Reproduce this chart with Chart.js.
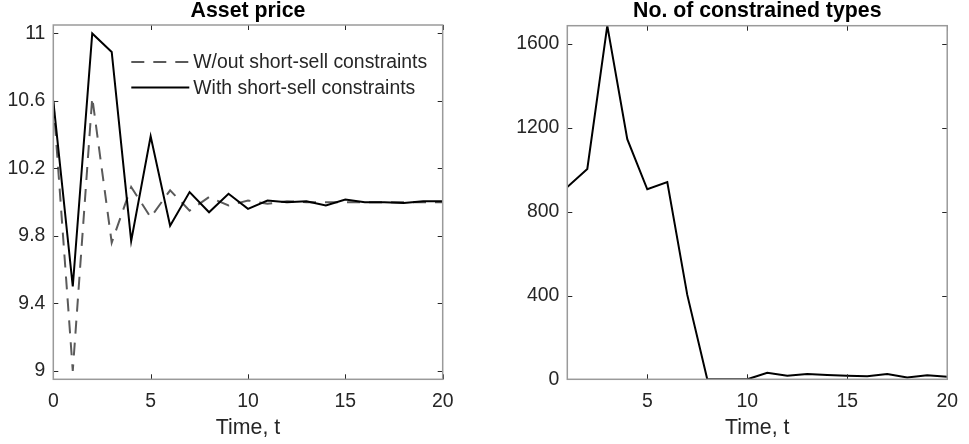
<!DOCTYPE html>
<html>
<head>
<meta charset="utf-8">
<script src="https://cdn.jsdelivr.net/npm/chart.js@4.4.1/dist/chart.umd.min.js"></script>
<style>
  html, body { margin: 0; padding: 0; background: #ffffff; }
  body { width: 969px; height: 444px; position: relative; overflow: hidden; }
  canvas { position: absolute; top: 0; }
  #priceChart { left: 0; }
  #typesChart { left: 500px; }
</style>
</head>
<body>
<canvas id="priceChart" width="500" height="444"></canvas>
<canvas id="typesChart" width="469" height="444"></canvas>
<script>
// Asset price path, t = 0..20
const timePrice = [0, 1, 2, 3, 4, 5, 6, 7, 8, 9, 10, 11, 12, 13, 14, 15, 16, 17, 18, 19, 20];
const priceWithout = [10.6, 9.0, 10.62, 9.76, 10.09, 9.91, 10.07, 9.95, 10.03, 9.98, 10.01, 9.99, 10.005, 10.0, 10.0, 10.0, 10.0, 10.0, 10.0, 10.0, 10.0];
const priceWith = [10.6, 9.5, 11.0, 10.89, 9.77, 10.39, 9.86, 10.06, 9.94, 10.05, 9.96, 10.01, 10.0, 10.005, 9.98, 10.015, 10.0, 10.0, 9.995, 10.005, 10.005];

// Number of constrained types, t = 1..20
const timeTypes = [1, 2, 3, 4, 5, 6, 7, 8, 9, 10, 11, 12, 13, 14, 15, 16, 17, 18, 19, 20];
const constrainedTypes = [918, 1004, 1688, 1146, 907, 941, 403, 0, 0, 0, 31, 17, 25, 20, 17, 14, 25, 9, 19, 12];

// Axis ticks and labels
const priceTicks = [9, 9.4, 9.8, 10.2, 10.6, 11];
const priceTickLabels = ['9', '9.4', '9.8', '10.2', '10.6', '11'];
const timeTicksPrice = [0, 5, 10, 15, 20];
const typesTicks = [0, 400, 800, 1200, 1600];
const timeTicksTypes = [5, 10, 15, 20];

const titlePrice = 'Asset price';
const titleTypes = 'No. of constrained types';
const xTitle = 'Time, t';
const labelWithout = 'W/out short-sell constraints';
const labelWith = 'With short-sell constraints';

const FONT = '"Liberation Sans", Arial, Helvetica, sans-serif';
const TEXT = '#262626';

function pts(xs, ys) { return xs.map((x, i) => ({ x: x, y: ys[i] })); }

// Box around the plot area, inward tick marks on all four sides, and the title
const boxPlugin = {
  id: 'boxTicks',
  afterDatasetsDraw(chart, args, opts) {
    const { ctx, chartArea: a, scales } = chart;
    ctx.save();
    ctx.strokeStyle = '#262626';
    ctx.lineWidth = 1;
    const len = 5;
    scales.x.ticks.forEach(t => {
      const px = Math.round(scales.x.getPixelForValue(t.value)) + 0.5;
      ctx.beginPath();
      ctx.moveTo(px, a.bottom); ctx.lineTo(px, a.bottom - len);
      ctx.moveTo(px, a.top); ctx.lineTo(px, a.top + len);
      ctx.stroke();
    });
    scales.y.ticks.forEach(t => {
      const py = Math.round(scales.y.getPixelForValue(t.value)) + 0.5;
      ctx.beginPath();
      ctx.moveTo(a.left, py); ctx.lineTo(a.left + len, py);
      ctx.moveTo(a.right, py); ctx.lineTo(a.right - len, py);
      ctx.stroke();
    });
    ctx.strokeStyle = '#9a9a9a';
    ctx.lineWidth = 1.5;
    ctx.strokeRect(a.left, a.top, a.right - a.left, a.bottom - a.top);

    ctx.fillStyle = '#000';
    ctx.font = 'bold 21.3px ' + FONT;
    ctx.textAlign = 'center';
    ctx.textBaseline = 'middle';
    ctx.fillText(opts.text, (a.left + a.right) / 2, 11);
    ctx.restore();
  }
};

// Legend without frame, placed in the upper right of the price panel
const legendPlugin = {
  id: 'innerLegend',
  afterDatasetsDraw(chart, args, opts) {
    if (!opts.items) return;
    const { ctx, chartArea: a } = chart;
    ctx.save();
    opts.items.forEach((idx, row) => {
      const ds = chart.data.datasets[idx];
      const y = a.top + 37 + row * 25.6;
      const x0 = a.left + 78;
      ctx.strokeStyle = ds.borderColor;
      ctx.lineWidth = ds.borderWidth;
      ctx.setLineDash(ds.borderDash || []);
      ctx.beginPath();
      ctx.moveTo(x0, y); ctx.lineTo(x0 + 58, y);
      ctx.stroke();
      ctx.setLineDash([]);
      ctx.fillStyle = TEXT;
      ctx.font = '19.4px ' + FONT;
      ctx.textAlign = 'left';
      ctx.textBaseline = 'middle';
      ctx.fillText(ds.label, x0 + 62, y + 1);
    });
    ctx.restore();
  }
};

function xScale(min, max, tickVals, height) {
  return {
    type: 'linear', min: min, max: max,
    grid: { display: false, drawTicks: false },
    border: { display: false },
    afterBuildTicks: s => { s.ticks = tickVals.map(v => ({ value: v })); },
    afterFit: s => { s.height = height; },
    ticks: { color: TEXT, font: { family: FONT, size: 19.4 }, padding: 11, maxRotation: 0,
             callback: v => String(v) },
    title: { display: true, text: xTitle, color: TEXT, padding: 0,
             font: { family: FONT, size: 21.3, lineHeight: 1.2 } }
  };
}

function yScale(min, max, tickVals, labels, width) {
  return {
    type: 'linear', min: min, max: max,
    grid: { display: false, drawTicks: false },
    border: { display: false },
    afterBuildTicks: s => { s.ticks = tickVals.map(v => ({ value: v })); },
    afterFit: s => { s.width = width; },
    ticks: { color: TEXT, font: { family: FONT, size: 19.4 }, padding: 8,
             callback: (v, i) => labels ? labels[i] : String(v) }
  };
}

const common = {
  responsive: false,
  animation: false,
  events: [],
  devicePixelRatio: 1,
  elements: { point: { radius: 0 }, line: { tension: 0, borderJoinStyle: 'miter' } }
};

new Chart(document.getElementById('priceChart'), {
  type: 'line',
  data: {
    datasets: [
      { label: labelWith, data: pts(timePrice, priceWith), borderColor: '#000000',
        borderWidth: 2, fill: false },
      { label: labelWithout, data: pts(timePrice, priceWithout), borderColor: '#5a5a5a',
        borderWidth: 2, borderDash: [13, 9], fill: false }
    ]
  },
  options: Object.assign({}, common, {
    layout: { padding: { left: 7.3, right: 57.3, top: 25, bottom: 3 } },
    scales: {
      x: xScale(0, 20, timeTicksPrice, 61.7),
      y: yScale(8.95, 11.05, priceTicks, priceTickLabels, 46)
    },
    plugins: {
      legend: { display: false },
      tooltip: { enabled: false },
      boxTicks: { text: titlePrice },
      innerLegend: { items: [1, 0] }
    }
  }),
  plugins: [boxPlugin, legendPlugin]
});

new Chart(document.getElementById('typesChart'), {
  type: 'line',
  data: {
    datasets: [
      { label: 'No. of constrained types', data: pts(timeTypes, constrainedTypes),
        borderColor: '#000000', borderWidth: 2, fill: false }
    ]
  },
  options: Object.assign({}, common, {
    layout: { padding: { left: 7.3, right: 13.3, top: 25.7, bottom: 3 } },
    scales: {
      x: xScale(1, 20, timeTicksTypes, 61.7),
      y: yScale(0, 1688, typesTicks, null, 60)
    },
    plugins: {
      legend: { display: false },
      tooltip: { enabled: false },
      boxTicks: { text: titleTypes },
      innerLegend: {}
    }
  }),
  plugins: [boxPlugin, legendPlugin]
});
</script>
</body>
</html>
